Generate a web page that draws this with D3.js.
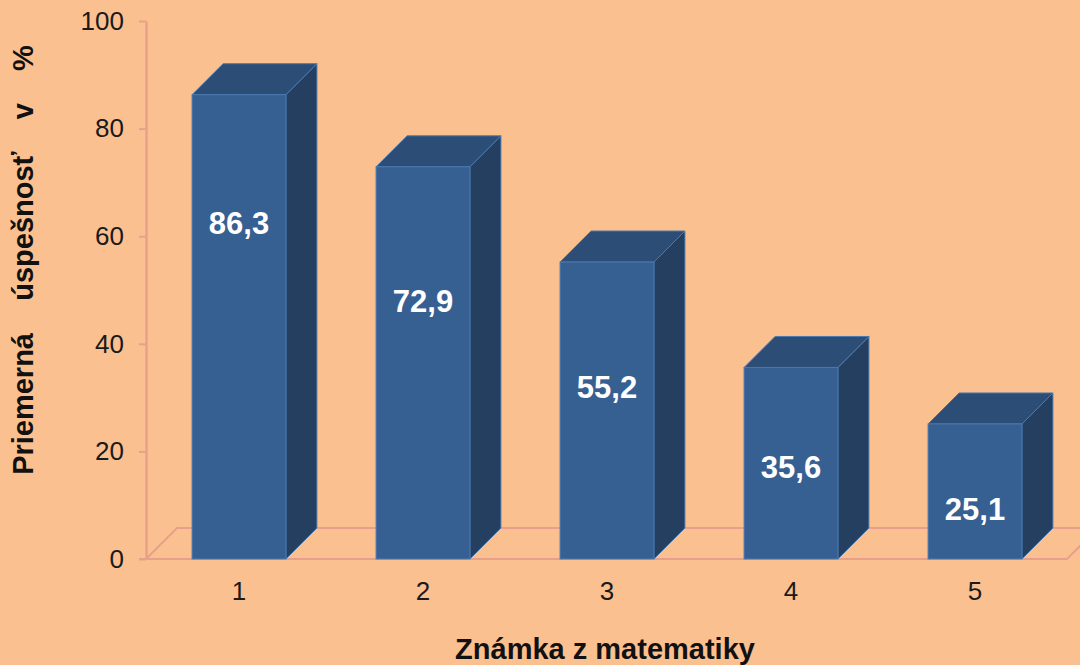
<!DOCTYPE html>
<html>
<head>
<meta charset="utf-8">
<script src="https://cdn.jsdelivr.net/npm/d3@7"></script>
<style>
  html, body { margin: 0; padding: 0; background: #FAC090; }
  svg { display: block; font-family: "Liberation Sans", Arial, sans-serif; }
</style>
</head>
<body>
<svg id="chart"></svg>
<script>
// data
const grades = ['1', '2', '3', '4', '5'];
const avgScore = [86.3, 72.9, 55.2, 35.6, 25.1];
const valueLabels = ['86,3', '72,9', '55,2', '35,6', '25,1'];
const yTicks = [0, 20, 40, 60, 80, 100];

// layout
let width = 1080;
let height = 665;
let depth = 31;               // 3d offset of the bars and the floor
let labelLift = [23.9, 24.9, 23.2, 18.5, 15.8]; // how far below the top the value labels sit (axis units)

const axisColor = '#E8A08C';
const frontColor = '#376092';
const topColor = '#2C4D75';
const sideColor = '#243F60';
const edgeColor = '#4A78AE';

let svg = d3.select('#chart')
    .attr('width', width)
    .attr('height', height);

let xScale = d3.scaleBand()
    .domain(grades)
    .range([147, 1067])
    .paddingInner(0.49)
    .paddingOuter(0.245);

let yScale = d3.scaleLinear()
    .domain([0, 100])
    .range([559, 21]);

const y0 = yScale(0);
const xLeft = 146;
const xRight = xScale.range()[1];

// floor
svg.append('path')
    .attr('d', `M${xLeft - 7},${y0} L${xRight},${y0} L${xRight + depth},${y0 - depth} L${xLeft + depth},${y0 - depth} L${xLeft},${y0}`)
    .attr('fill', 'none')
    .attr('stroke', axisColor)
    .attr('stroke-width', 2);

// y axis
let yAxis = d3.axisLeft(yScale)
    .tickValues(yTicks)
    .tickSize(7)
    .tickSizeOuter(0)
    .tickPadding(15);

let yG = svg.append('g')
    .attr('transform', `translate(${xLeft},0)`)
    .call(yAxis);
yG.select('.domain').attr('stroke', axisColor).attr('stroke-width', 2.5);
yG.selectAll('.tick line').attr('stroke', axisColor).attr('stroke-width', 2);
yG.selectAll('.tick text')
    .attr('fill', '#1a1a1a')
    .style('font-size', '26px');

// x axis
let xAxis = d3.axisBottom(xScale)
    .tickSize(0)
    .tickPadding(23);

let xG = svg.append('g')
    .attr('transform', `translate(0,${y0})`)
    .call(xAxis);
xG.select('.domain').remove();
xG.selectAll('.tick text')
    .attr('fill', '#1a1a1a')
    .style('font-size', '26px');

// bars
const bw = xScale.bandwidth();
let bars = svg.selectAll('g.bar')
    .data(avgScore)
    .enter()
    .append('g')
    .attr('class', 'bar');

bars.append('path')
    .attr('d', (d, i) => {
        let x = xScale(grades[i]), y = yScale(d);
        return `M${x + bw},${y} L${x + bw + depth},${y - depth} L${x + bw + depth},${y0 - depth} L${x + bw},${y0} Z`;
    })
    .attr('fill', sideColor)
    .attr('stroke', edgeColor)
    .attr('stroke-width', 1)
    .attr('stroke-linejoin', 'round');

bars.append('path')
    .attr('d', (d, i) => {
        let x = xScale(grades[i]), y = yScale(d);
        return `M${x},${y} L${x + depth},${y - depth} L${x + bw + depth},${y - depth} L${x + bw},${y} Z`;
    })
    .attr('fill', topColor)
    .attr('stroke', edgeColor)
    .attr('stroke-width', 1)
    .attr('stroke-linejoin', 'round');

bars.append('rect')
    .attr('x', (d, i) => xScale(grades[i]))
    .attr('y', d => yScale(d))
    .attr('width', bw)
    .attr('height', d => y0 - yScale(d))
    .attr('fill', frontColor)
    .attr('stroke', edgeColor)
    .attr('stroke-width', 1);

// value labels
bars.append('text')
    .attr('x', (d, i) => xScale(grades[i]) + bw / 2)
    .attr('y', (d, i) => yScale(d - labelLift[i]))
    .attr('dy', '0.35em')
    .attr('text-anchor', 'middle')
    .attr('fill', '#ffffff')
    .style('font-size', '31px')
    .style('font-weight', 'bold')
    .text((d, i) => valueLabels[i]);

// axis titles
svg.append('text')
    .attr('x', 605)
    .attr('y', 659)
    .attr('text-anchor', 'middle')
    .attr('fill', '#111')
    .style('font-size', '29px')
    .style('font-weight', 'bold')
    .text('Známka z matematiky');

svg.append('text')
    .attr('transform', 'translate(33,260) rotate(-90)')
    .attr('text-anchor', 'middle')
    .attr('fill', '#111')
    .style('font-size', '29px')
    .style('font-weight', 'bold')
    .style('white-space', 'pre')
    .text('Priemerná    úspešnosť    v    %');
</script>
</body>
</html>
